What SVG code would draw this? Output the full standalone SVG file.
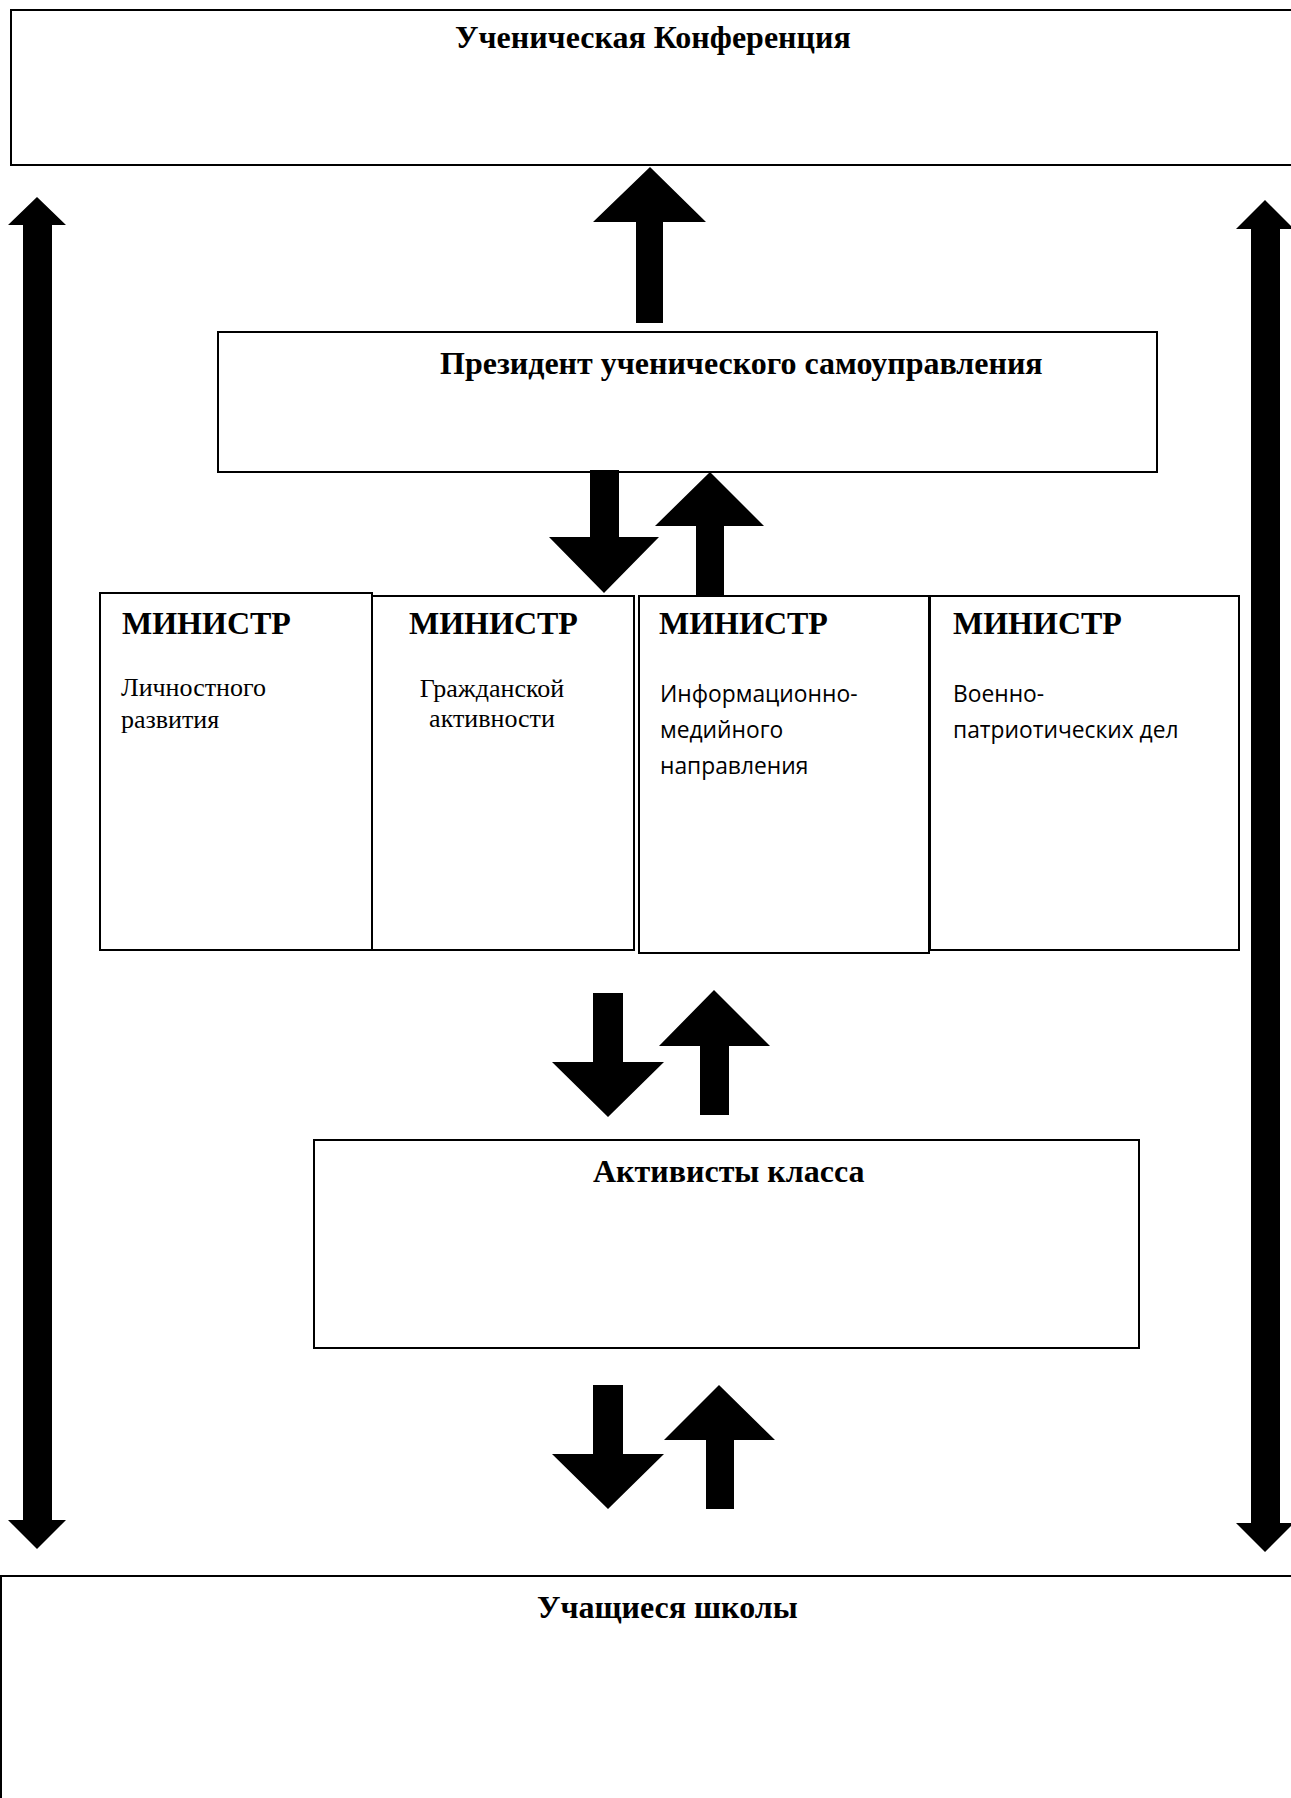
<svg xmlns="http://www.w3.org/2000/svg" width="1291" height="1798" viewBox="0 0 1291 1798">
<style>
.box{fill:#fff;stroke:#000;stroke-width:2}
.arr{fill:#000;stroke:none}
.t{font-family:"Liberation Serif","Times New Roman",serif;font-weight:bold;font-size:32px;fill:#000}
.s{font-family:"Liberation Serif","Times New Roman",serif;font-size:26px;fill:#000}
.c{font-family:"Open Sans","Liberation Sans",sans-serif;font-size:22.8px;fill:#000}
</style>
<rect width="1291" height="1798" fill="#fff"/>
<g id="conference">
<rect class="box" x="11" y="10" width="1300" height="155"/>
<text class="t" x="455" y="48">Ученическая Конференция</text>
</g>
<g id="president">
<rect class="box" x="218" y="332" width="939" height="140"/>
<text class="t" x="440" y="374">Президент ученического самоуправления</text>
</g>
<g id="minister1">
<rect class="box" x="100" y="593" width="272" height="357"/>
<text class="t" x="122" y="634">МИНИСТР</text>
<text class="s" x="121" y="696">Личностного</text>
<text class="s" x="121" y="728">развития</text>
</g>
<g id="minister2">
<rect class="box" x="372" y="596" width="262" height="354"/>
<text class="t" x="409" y="634">МИНИСТР</text>
<text class="s" x="492" y="697" text-anchor="middle">Гражданской</text>
<text class="s" x="492" y="727" text-anchor="middle">активности</text>
</g>
<g id="minister3">
<rect class="box" x="639" y="596" width="290" height="357"/>
<text class="t" x="659" y="634">МИНИСТР</text>
<text class="c" x="660" y="702">Информационно-</text>
<text class="c" x="660" y="738">медийного</text>
<text class="c" x="660" y="774">направления</text>
</g>
<g id="minister4">
<rect class="box" x="930" y="596" width="309" height="354"/>
<text class="t" x="953" y="634">МИНИСТР</text>
<text class="c" x="953" y="702">Военно-</text>
<text class="c" x="953" y="738">патриотических дел</text>
</g>
<g id="activists">
<rect class="box" x="314" y="1140" width="825" height="208"/>
<text class="t" x="593" y="1182">Активисты класса</text>
</g>
<g id="students">
<rect class="box" x="1" y="1576" width="1310" height="240"/>
<text class="t" x="537" y="1618">Учащиеся школы</text>
</g>
<g id="connectors">
<polygon class="arr" points="37,197 66,225 52,225 52,1520 66,1520 37,1549 8,1520 23,1520 23,225 8,225"/>
<polygon class="arr" points="1265,200 1294,229 1280,229 1280,1523 1294,1523 1265,1552 1236,1523 1251,1523 1251,229 1236,229"/>
<polygon class="arr" points="650,167 706,222 663,222 663,323 636,323 636,222 593,222"/>
<polygon class="arr" points="590,470 619,470 619,537 659,537 604,593 549,537 590,537"/>
<polygon class="arr" points="710,472 764,526 724,526 724,595 696,595 696,526 655,526"/>
<polygon class="arr" points="593,993 623,993 623,1062 664,1062 608,1117 552,1062 593,1062"/>
<polygon class="arr" points="714,990 770,1046 729,1046 729,1115 700,1115 700,1046 659,1046"/>
<polygon class="arr" points="593,1385 623,1385 623,1454 664,1454 608,1509 552,1454 593,1454"/>
<polygon class="arr" points="719,1385 775,1440 734,1440 734,1509 706,1509 706,1440 664,1440"/>
</g>
</svg>
